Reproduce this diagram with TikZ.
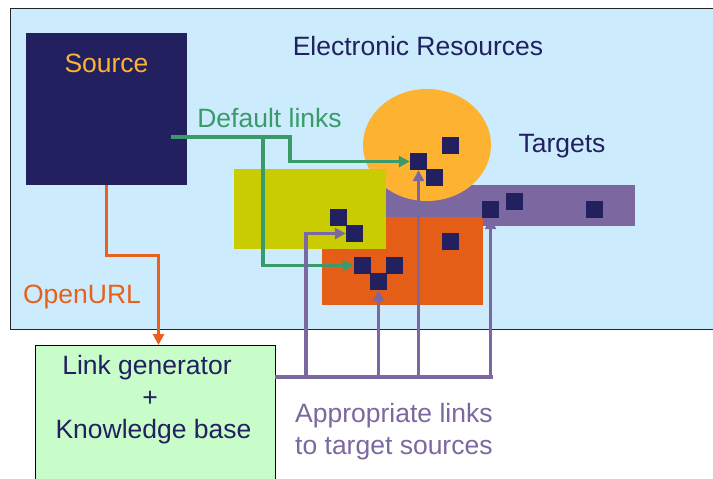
\documentclass[tikz,border=0pt]{standalone}
\usepackage{fontspec}
\setmainfont{Liberation Sans}
\usetikzlibrary{arrows.meta,shapes.geometric}
\definecolor{bgblue}{HTML}{CCEBFD}
\definecolor{navy}{HTML}{22205F}
\definecolor{gold}{HTML}{FDB231}
\definecolor{lime}{HTML}{C8CC00}
\definecolor{rust}{HTML}{E55E17}
\definecolor{violet}{HTML}{7B68A0}
\definecolor{linkgreen}{HTML}{3A9A6A}
\definecolor{mint}{HTML}{C8FCC8}
\definecolor{ourl}{HTML}{E8601A}
\tikzset{
  sq/.style={fill=navy, minimum size=17pt, inner sep=0pt, draw=none},
  lbl/.style={font=\fontsize{26.5}{30}\selectfont, anchor=base, inner sep=0pt},
  conn/.style={line width=3.5pt, -{Triangle[length=11pt,width=11pt]}},
  plain/.style={line width=3.5pt},
}
\begin{document}
\begin{tikzpicture}[x=1pt,y=-1pt]
\useasboundingbox (0,0) rectangle (713,479);
% background panel
\fill[bgblue] (10,8) rectangle (740,329);
\draw[black!85,line width=1pt] (740,8) -- (10,8) -- (10,329) -- (740,329);
% source box
\node[fill=navy, minimum width=161pt, minimum height=152pt, inner sep=0pt, anchor=north west] (src) at (26,33) {};
% target shapes
\node[fill=violet, minimum width=250pt, minimum height=41pt, inner sep=0pt, anchor=north west] (bar) at (385,185) {};
\node[ellipse, fill=gold, minimum width=128pt, minimum height=112pt, inner sep=0pt] (ell) at (427,145) {};
\node[fill=rust, minimum width=161pt, minimum height=88pt, inner sep=0pt, anchor=north west] (orr) at (322,217) {};
\node[fill=lime, minimum width=152pt, minimum height=80pt, inner sep=0pt, anchor=north west] (yel) at (234,169) {};
% squares
\node[sq] (A) at (418.5,161.5) {};
\node[sq] (B) at (450.5,145.5) {};
\node[sq] (C) at (434.5,177.5) {};
\node[sq] (Y1) at (338.5,217.5) {};
\node[sq] (Y2) at (354.5,233.5) {};
\node[sq] (O1) at (362.5,265.5) {};
\node[sq] (O2) at (394.5,265.5) {};
\node[sq] (O3) at (378.5,281.5) {};
\node[sq] (O4) at (450.5,241.5) {};
\node[sq] (P1) at (490.5,209.5) {};
\node[sq] (P2) at (514.5,201.5) {};
\node[sq] (P3) at (594.5,209.5) {};
% link generator box
\node[fill=mint, draw=black, line width=1pt, minimum width=240pt, minimum height=160pt, inner sep=0pt, anchor=north west] (lg) at (35,345) {};
% labels
\node[lbl, text=gold] (tsrc) at (106.5,72) {Source};
\node[lbl, text=navy] (ter) at (418,55) {Electronic Resources};
\node[lbl, text=navy] (ttg) at (562,152) {Targets};
\node[lbl, text=linkgreen] (tdl) at (269.5,127) {Default links};
\node[lbl, text=ourl] (tou) at (82,303) {OpenURL};
\node[lbl, text=navy] (tlg) at (147,374) {Link generator};
\node[lbl, text=navy] (tpl) at (150,406) {+};
\node[lbl, text=navy] (tkb) at (153.5,438) {Knowledge base};
\node[lbl, text=violet, anchor=base west] (tap) at (295,422) {Appropriate links};
\node[lbl, text=violet, anchor=base west] (tts) at (295,454) {to target sources};
% green default links
\coordinate (gs) at (171,137);
\coordinate (gb) at (263,137);
\draw[conn, linkgreen] (gs) -- (290,137) |- (A.west);
\draw[conn, linkgreen] (gb) |- (O1.west);
% orange OpenURL
\draw[conn, ourl] (src.south) -- ++(0,70) -| ([xshift=3pt]lg.north);
% purple appropriate links
\coordinate (ps) at (275,377);
\coordinate (pe) at (492.5,377);
\draw[plain, violet] (ps) -- (pe);
\draw[conn, violet] (306,378.75) |- (Y2.west);
\draw[conn, violet] (O3.south |- ps) -- (O3.south);
\draw[conn, violet] (A.south |- ps) -- (A.south);
\draw[conn, violet] (P1.south |- pe) -- (P1.south);
\end{tikzpicture}
\end{document}
